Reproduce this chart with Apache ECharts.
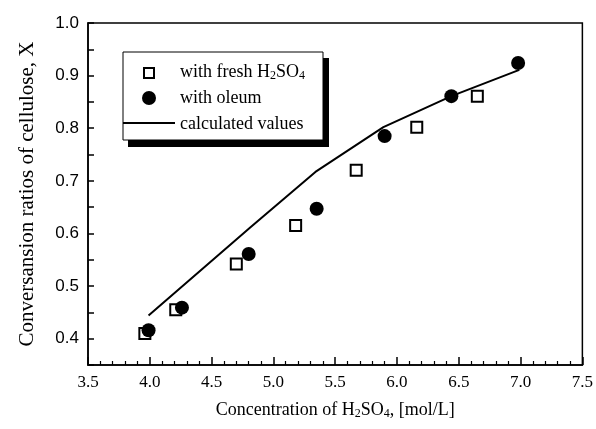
<!DOCTYPE html>
<html>
<head>
<meta charset="utf-8">
<script src="https://cdn.jsdelivr.net/npm/echarts@6/dist/echarts.min.js"></script>
<style>
  html, body { margin: 0; padding: 0; background: #fff; }
  #main { width: 596px; height: 429px; }
</style>
</head>
<body>
<div id="main"></div>
<script>
// fresh H2SO4 (hollow squares)
const freshX = [3.96, 4.21, 4.70, 5.18, 5.67, 6.16, 6.65];
const freshY = [0.410, 0.455, 0.542, 0.615, 0.720, 0.802, 0.861];
// oleum (filled circles)
const oleumX = [3.99, 4.26, 4.80, 5.35, 5.90, 6.44, 6.98];
const oleumY = [0.416, 0.459, 0.561, 0.647, 0.785, 0.861, 0.924];
// calculated values (line)
const calcX = [3.99, 4.81, 5.34, 5.89, 6.44, 6.99];
const calcY = [0.444, 0.611, 0.717, 0.802, 0.861, 0.911];

const legendNames = ['with fresh H{s|2}SO{s|4}', 'with oleum', 'calculated values'];

const pairs = (xs, ys) => xs.map((x, i) => [x, ys[i]]);

const serif = "'Liberation Serif', 'Times New Roman', serif";
const sans = "'Liberation Sans', Arial, sans-serif";
const sub = { fontSize: 12, fontFamily: serif, fill: '#000', color: '#000', padding: [8, 0, 0, 0] };

// legend box drawn by hand (framed box with a hard drop shadow)
const lgX = 123, lgY = 52, lgW = 200, lgH = 88;
const rowY = [lgY + 21, lgY + 46, lgY + 71];
const legendText = (t, y, dy) => ({
  type: 'text', z: 102, left: lgX + 57, top: y - dy,
  style: { text: t, font: '18px ' + serif, fill: '#000', rich: { s: sub } }
});

const chart = echarts.init(document.getElementById('main'));
chart.setOption({
  animation: false,
  backgroundColor: '#fff',
  grid: { left: 88, right: 10, top: 23, bottom: 64, show: true, borderColor: '#000', borderWidth: 1.5 },
  graphic: [
    { type: 'rect', z: 100, shape: { x: lgX + 5, y: lgY + 6, width: lgW + 1, height: lgH + 1 }, style: { fill: '#000' } },
    { type: 'rect', z: 101, shape: { x: lgX, y: lgY, width: lgW, height: lgH }, style: { fill: '#fff', stroke: '#000', lineWidth: 1 } },
    { type: 'rect', z: 102, shape: { x: lgX + 21, y: rowY[0] - 5, width: 10, height: 10 }, style: { fill: '#fff', stroke: '#000', lineWidth: 2 } },
    { type: 'circle', z: 102, shape: { cx: lgX + 26, cy: rowY[1], r: 7 }, style: { fill: '#000' } },
    { type: 'line', z: 102, shape: { x1: lgX, y1: rowY[2], x2: lgX + 52, y2: rowY[2] }, style: { stroke: '#000', lineWidth: 2 } },
    legendText(legendNames[0], rowY[0], 10),
    legendText(legendNames[1], rowY[1], 9),
    legendText(legendNames[2], rowY[2], 8)
  ],
  xAxis: {
    type: 'value', min: 3.5, max: 7.5, interval: 0.5,
    name: 'Concentration of H{s|2}SO{s|4}, [mol/L]',
    nameLocation: 'middle', nameGap: 35,
    nameTextStyle: { fontFamily: serif, fontSize: 18, color: '#000', rich: { s: Object.assign({}, sub, { fontSize: 12 }) } },
    axisLine: { lineStyle: { color: '#000', width: 1.5 } },
    axisTick: { inside: true, length: 8, lineStyle: { color: '#000', width: 1.5 } },
    minorTick: { show: true, splitNumber: 5, length: 4, lineStyle: { color: '#000', width: 1.2 } },
    axisLabel: { margin: 9, fontFamily: serif, fontSize: 17, color: '#000', formatter: v => v.toFixed(1) },
    splitLine: { show: false }
  },
  yAxis: {
    type: 'value', min: 0.35, max: 1.0, interval: 0.05,
    name: 'Conversansion ratios of cellulose, X',
    nameLocation: 'middle', nameGap: 50,
    nameTextStyle: { fontFamily: serif, fontSize: 21, color: '#000' },
    axisLine: { show: true, lineStyle: { color: '#000', width: 1.5 } },
    axisTick: { show: true, inside: true, length: 6, lineStyle: { color: '#000', width: 1.5 } },
    axisLabel: {
      margin: 9, fontFamily: sans, fontSize: 17, color: '#000',
      formatter: v => (Math.round(v * 100) % 10 === 0 ? v.toFixed(1) : '')
    },
    splitLine: { show: false }
  },
  series: [
    {
      name: 'calculated values', type: 'line', data: pairs(calcX, calcY),
      symbol: 'none', lineStyle: { color: '#000', width: 2 }, itemStyle: { color: '#000' }
    },
    {
      name: 'with fresh H2SO4', type: 'scatter', data: pairs(freshX, freshY),
      symbol: 'rect', symbolSize: 11,
      itemStyle: { color: '#fff', borderColor: '#000', borderWidth: 2, opacity: 1 }
    },
    {
      name: 'with oleum', type: 'scatter', data: pairs(oleumX, oleumY),
      symbol: 'circle', symbolSize: 14,
      itemStyle: { color: '#000', opacity: 1 }
    }
  ]
});
</script>
</body>
</html>
